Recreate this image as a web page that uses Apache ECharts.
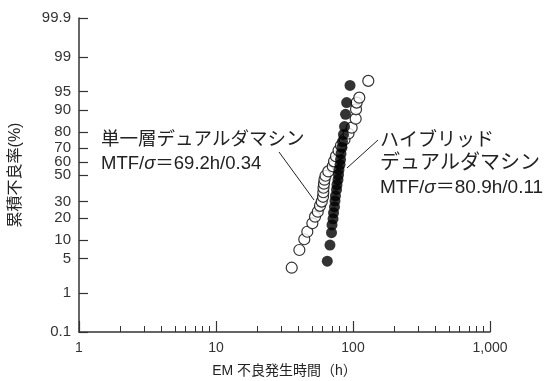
<!DOCTYPE html>
<html><head><meta charset="utf-8">
<script src="https://cdn.jsdelivr.net/npm/echarts@6/dist/echarts.min.js"></script>
<style>html,body{margin:0;padding:0;background:#fff}#c{width:545px;height:381px}</style>
</head><body><div id="c"></div>
<script>
// 単一層デュアルダマシン (open circles): failure time (h), cumulative failure (%)
const singleHours = [35.7, 40.6, 44.1, 46.4, 50.5, 52.8, 55.3, 57.4, 59.1, 60.4, 60.7, 60.9, 61.4, 61.9, 63.0, 66.0, 71.1, 72.7, 75.1, 78.4, 81.7, 86.7, 92.7, 97.8, 104.6, 105.2, 106.4, 111.2, 129.3];
const singlePct   = [3.4, 7.0, 10.3, 13.2, 17.1, 20.6, 23.5, 27.2, 30.0, 33.4, 36.7, 40.1, 43.2, 46.3, 49.4, 52.8, 56.8, 60.6, 64.4, 68.5, 71.9, 75.8, 79.3, 82.4, 86.6, 90.2, 92.3, 93.6, 96.8];
// ハイブリッドデュアルダマシン (filled circles)
const hybridHours = [64.9, 67.9, 69.7, 70.3, 71.5, 72.1, 73.3, 73.9, 74.5, 75.8, 76.4, 77.7, 78.4, 79.0, 80.4, 81.1, 81.7, 83.1, 83.8, 85.2, 86.7, 88.2, 89.9, 95.1];
const hybridPct   = [4.5, 8.4, 12.8, 16.3, 19.4, 22.8, 26.5, 30.5, 34.1, 38.6, 42.4, 46.3, 50.2, 54.2, 58.1, 61.9, 66.3, 70.6, 74.5, 78.8, 83.0, 88.4, 92.3, 96.1];
// axis ticks
const yTickPct = [0.1, 1, 5, 10, 20, 30, 50, 60, 70, 80, 90, 95, 99, 99.9];
const yTickLabels = ['0.1', '1', '5', '10', '20', '30', '50', '60', '70', '80', '90', '95', '99', '99.9'];
const xMajorHours = [1, 10, 100, 1000];
const xTickLabels = ['1', '10', '100', '1,000'];
const xMinorHours = [2, 3, 4, 5, 6, 7, 8, 9, 20, 30, 40, 50, 60, 70, 80, 90, 200, 300, 400, 500, 600, 700, 800, 900];

// inverse normal CDF (probability-paper scale)
function probit(p) {
  const a = [-3.969683028665376e+01, 2.209460984245205e+02, -2.759285104469687e+02, 1.383577518672690e+02, -3.066479806614716e+01, 2.506628277459239e+00];
  const b = [-5.447609879822406e+01, 1.615858368580409e+02, -1.556989798598866e+02, 6.680131188771972e+01, -1.328068155288572e+01];
  const c = [-7.784894002430293e-03, -3.223964580411365e-01, -2.400758277161838e+00, -2.549671348283508e+00, 4.374664141464968e+00, 2.938163982698783e+00];
  const d = [7.784695709041462e-03, 3.224671290700398e-01, 2.445134137142996e+00, 3.754408661907416e+00];
  const pl = 0.02425, ph = 1 - pl;
  let q, r;
  if (p < pl) { q = Math.sqrt(-2 * Math.log(p)); return (((((c[0]*q+c[1])*q+c[2])*q+c[3])*q+c[4])*q+c[5]) / ((((d[0]*q+d[1])*q+d[2])*q+d[3])*q+1); }
  if (p <= ph) { q = p - 0.5; r = q*q; return (((((a[0]*r+a[1])*r+a[2])*r+a[3])*r+a[4])*r+a[5])*q / (((((b[0]*r+b[1])*r+b[2])*r+b[3])*r+b[4])*r+1); }
  q = Math.sqrt(-2 * Math.log(1 - p)); return -(((((c[0]*q+c[1])*q+c[2])*q+c[3])*q+c[4])*q+c[5]) / ((((d[0]*q+d[1])*q+d[2])*q+d[3])*q+1);
}
const py = v => probit(v / 100);
const lx = v => Math.log10(v);

const yTickVals = yTickPct.map(py);
const xMajorVals = xMajorHours.map(lx);
const xMinorVals = xMinorHours.map(lx);
const singleData = singleHours.map((h, i) => [lx(h), py(singlePct[i])]);
const hybridData = hybridHours.map((h, i) => [lx(h), py(hybridPct[i])]);

const FONT = '"Liberation Sans","Noto Sans CJK JP",sans-serif';
const AX = '#333';
const chart = echarts.init(document.getElementById('c'), null, { renderer: 'canvas' });

function yLabel(v) {
  for (let i = 0; i < yTickVals.length; i++) if (Math.abs(yTickVals[i] - v) < 1e-6) return yTickLabels[i];
  return '';
}
function xLabel(v) {
  for (let i = 0; i < xMajorVals.length; i++) if (Math.abs(xMajorVals[i] - v) < 1e-6) return xTickLabels[i];
  return '';
}

const txt = (x, y, text, size) => ({
  type: 'text', x: x, y: y, silent: true,
  style: {
    text: text, fill: '#222', fontSize: size, fontFamily: FONT, verticalAlign: 'middle', align: 'left',
    rich: { s: { fontStyle: 'italic', fontSize: size, fontFamily: FONT, fill: '#222' } }
  }
});

chart.setOption({
  animation: false,
  backgroundColor: '#fff',
  grid: { left: 79, right: 55, top: 18, bottom: 49, containLabel: false, outerBoundsMode: 'none' },
  xAxis: [{
    type: 'value', min: lx(xMajorHours[0]), max: lx(xMajorHours[3]), position: 'bottom',
    name: 'EM 不良発生時間（h）', nameLocation: 'middle', nameGap: 32,
    nameTextStyle: { fontSize: 14, fontFamily: FONT, color: '#222' },
    axisLine: { show: true, onZero: false, lineStyle: { color: AX, width: 1.5 } },
    axisTick: { show: true, inside: true, length: 11, customValues: xMajorVals, lineStyle: { color: AX, width: 1.2 } },
    axisLabel: { show: true, customValues: xMajorVals, formatter: xLabel, fontSize: 14, fontFamily: FONT, color: '#333', margin: 9 },
    splitLine: { show: false }
  }, {
    type: 'value', min: lx(xMajorHours[0]), max: lx(xMajorHours[3]), position: 'bottom', offset: 0,
    axisLine: { show: false, onZero: false },
    axisTick: { show: true, inside: true, length: 6, customValues: xMinorVals, lineStyle: { color: AX, width: 1 } },
    axisLabel: { show: false },
    splitLine: { show: false }
  }],
  yAxis: {
    type: 'value', min: yTickVals[0], max: yTickVals[yTickVals.length - 1],
    name: '累積不良率(%)', nameLocation: 'middle', nameRotate: 90, nameGap: 55,
    nameTextStyle: { fontSize: 16, fontFamily: FONT, color: '#222' },
    axisLine: { show: true, onZero: false, lineStyle: { color: AX, width: 1.5 } },
    axisTick: { show: true, inside: true, length: 9, customValues: yTickVals, lineStyle: { color: AX, width: 1.2 } },
    axisLabel: { show: true, customValues: yTickVals, formatter: yLabel, fontSize: 15, fontFamily: FONT, color: '#333', margin: 8 },
    splitLine: { show: false }
  },
  series: [{
    name: '単一層デュアルダマシン', type: 'scatter', data: singleData, xAxisIndex: 0, yAxisIndex: 0,
    symbol: 'circle', symbolSize: 11,
    itemStyle: { color: '#fff', borderColor: '#000', borderWidth: 1.2 }, z: 2
  }, {
    name: 'ハイブリッドデュアルダマシン', type: 'scatter', data: hybridData, xAxisIndex: 0, yAxisIndex: 0,
    symbol: 'circle', symbolSize: 11,
    itemStyle: { color: '#000' }, z: 3
  }],
  graphic: [
    txt(101, 140, '単一層デュアルダマシン', 18.5),
    txt(101, 164, 'MTF/{s|σ}＝69.2h/0.34', 18.5),
    txt(380, 141, 'ハイブリッド', 19),
    txt(380, 163, 'デュアルダマシン', 20),
    txt(380, 188, 'MTF/{s|σ}＝80.9h/0.11', 19),
    { type: 'line', silent: true, shape: { x1: 279, y1: 152, x2: 314, y2: 200 }, style: { stroke: '#222', lineWidth: 1 } },
    { type: 'line', silent: true, shape: { x1: 378, y1: 140, x2: 347, y2: 168 }, style: { stroke: '#222', lineWidth: 1 } }
  ]
});
</script></body></html>
